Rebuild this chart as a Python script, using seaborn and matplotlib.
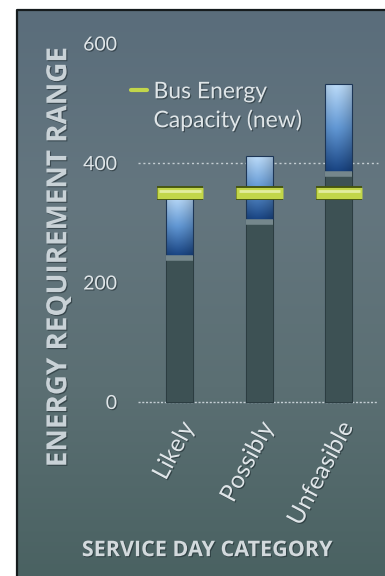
import numpy as np
import pandas as pd
import matplotlib.pyplot as plt
import matplotlib.patheffects as pe
import matplotlib.transforms as mtransforms
from matplotlib.colors import LinearSegmentedColormap, to_rgb
from matplotlib.lines import Line2D
import seaborn as sns

# data
categories = ['Likely', 'Possibly', 'Unfeasible']
range_low = [245, 305, 385]
range_high = [345, 412, 532]
bus_capacity = [350, 350, 350]
y_ticks = [0, 200, 400, 600]

df = pd.DataFrame({'category': categories, 'low': range_low,
                   'high': range_high, 'capacity': bus_capacity})

sns.set_style('white')
plt.rcParams['font.family'] = ['Lato', 'DejaVu Sans']

W, H = 385, 576
fig = plt.figure(figsize=(W / 100, H / 100), dpi=100)
fig.patch.set_facecolor('white')

# dark slate panel behind the chart
bg = fig.add_axes([0, 0, 1, 1])
bg.set_xlim(0, W)
bg.set_ylim(H, 0)
bg.axis('off')
panel_cmap = LinearSegmentedColormap.from_list(
    'panel', ['#5a6d7b', '#64767f', '#5b6f73', '#4a6262'])
grad = np.linspace(0, 1, 256)[:, None] * np.ones((1, 64))
bg.imshow(grad, cmap=panel_cmap, extent=[17, W, H, 10], aspect='auto')
bg.plot([17, 17, W], [H, 10, 10], color='#161c1e', lw=1.6)

shadow = [pe.withSimplePatchShadow(offset=(0.8, -0.8), shadow_rgbFace='#1a262b', alpha=0.55)]
light = '#dfe5e8'

# main axes: 0 at y=402px, 0.5975 px per unit
px = 0.5975
y_bot = 402 + 20 * px
y_top = 402 - 620 * px
ax = fig.add_axes([138 / W, (H - y_bot) / H, (W - 138) / W, (y_bot - y_top) / H])
ax.set_facecolor('none')

# range bars (blue gradient, clipped to the bar patches)
sns.barplot(data=df, x='category', y='high', color='#3f6fa8', width=0.34,
            saturation=1, errorbar=None, ax=ax, zorder=3)
blue_patches = list(ax.patches)

top_c, mid_c, bot_c = np.array(to_rgb('#aecbe6')), np.array(to_rgb('#5a8cc4')), np.array(to_rgb('#163e78'))
t = np.linspace(0, 1, 100)[:, None]
u = np.linspace(0, 1, 30)[None, :]
vert = np.where(t[..., None] < 0.5,
                top_c + (mid_c - top_c) * (t[..., None] / 0.5),
                mid_c + (bot_c - mid_c) * ((t[..., None] - 0.5) / 0.5))
shade = (1.08 - 0.45 * np.abs(u - 0.4) ** 1.5)[..., None]
blue_img = np.clip(vert * shade, 0, 1)

for p, lo, hi in zip(blue_patches, df['low'], df['high']):
    x0, w = p.get_x(), p.get_width()
    p.set_facecolor('none')
    p.set_edgecolor('#1d3656')
    p.set_linewidth(0.8)
    im = ax.imshow(blue_img, extent=[x0, x0 + w, lo, hi], aspect='auto', zorder=2.5)
    im.set_clip_path(p)

# dark base bars from 0 up to the bottom of the range
sns.barplot(data=df, x='category', y='low', color='#3d5154', width=0.34,
            saturation=1, errorbar=None, ax=ax, zorder=4)
for p in ax.patches[len(blue_patches):]:
    p.set_edgecolor('#2c3c3e')
    p.set_linewidth(0.6)
    x0, w = p.get_x(), p.get_width()
    ax.hlines(p.get_height() - 4, x0, x0 + w, color='#75878c', lw=4, zorder=4.5)

# bus energy capacity markers
xs = np.arange(len(categories))
ax.hlines(df['capacity'], xs - 0.29, xs + 0.29, color='#c2d64a', lw=8, zorder=6,
          capstyle='butt',
          path_effects=[pe.Stroke(linewidth=10, foreground='#46550f'), pe.Normal()])
ax.hlines(df['capacity'] + 3, xs - 0.26, xs + 0.26, color='#eef5bd', lw=2,
          alpha=0.75, zorder=7)

# dotted reference lines
ax.axhline(400, xmin=0, xmax=0.972, ls=(0, (1.5, 2)), color='#c4ced3', lw=1, zorder=1)
ax.axhline(0, xmin=0, xmax=0.972, ls=(0, (1.5, 1.2)), color='#c4ced3', lw=1, zorder=1)

ax.set_xlim(-0.528, 2.579)
ax.set_ylim(-20, 620)
sns.despine(ax=ax, left=True, bottom=True)

ax.set_yticks(y_ticks)
ax.set_yticklabels([str(v) for v in y_ticks], fontsize=14, color=light)
ax.set_xticks(xs)
ax.set_xticklabels(categories, fontsize=17.5, color=light, rotation=62,
                   ha='right', va='center', rotation_mode='anchor')
ax.tick_params(axis='y', length=0, pad=15)
ax.tick_params(axis='x', length=0, pad=7)
shift = mtransforms.ScaledTranslation(9 / 100, 0, fig.dpi_scale_trans)
for lab in ax.get_xticklabels():
    lab.set_transform(lab.get_transform() + shift)
for lab in ax.get_xticklabels() + ax.get_yticklabels():
    lab.set_path_effects(shadow)

ax.set_ylabel('ENERGY REQUIREMENT RANGE', fontsize=20, fontweight='bold',
              color='#c9d2d7', family=['Open Sans', 'DejaVu Sans'])
ax.yaxis.set_label_coords(-0.262, 0.41)
ax.set_xlabel('SERVICE DAY CATEGORY', fontsize=15.5, fontweight='bold',
              color='#d3dadd', family=['Open Sans', 'DejaVu Sans'])
ax.xaxis.set_label_coords(0.28, -0.33)
ax.yaxis.label.set_path_effects(shadow)
ax.xaxis.label.set_path_effects(shadow)

# legend: green dash beside the first line of the label
leg = ax.legend(handles=[Line2D([0], [0], color='#c2d64a', lw=3),
                         Line2D([0], [0], color='none', lw=0)],
                labels=['Bus Energy', 'Capacity (new)'], frameon=False,
                loc='upper left', bbox_to_anchor=(-0.03, 0.87),
                borderaxespad=0, borderpad=0, handlelength=0.7,
                handletextpad=0.3, labelspacing=0.3, fontsize=16.5,
                labelcolor=light)
for txt in leg.get_texts():
    txt.set_path_effects(shadow)

fig.savefig('out.png', dpi=100)
